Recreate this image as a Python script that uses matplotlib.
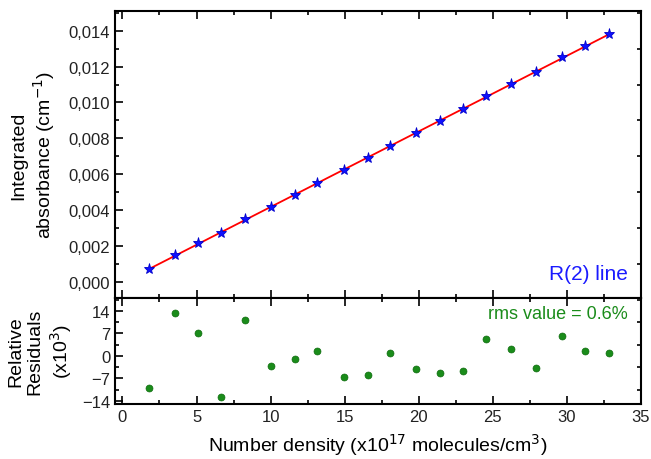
import numpy as np
import matplotlib
matplotlib.use("Agg")
import matplotlib.pyplot as plt
from matplotlib.ticker import MultipleLocator, FuncFormatter

plt.rcParams['font.family'] = ['Liberation Sans', 'DejaVu Sans']

# number density (x10^17 molecules/cm^3)
density = [1.78, 3.54, 5.12, 6.63, 8.30, 10.01, 11.64, 13.13, 14.98, 16.58,
           18.07, 19.83, 21.43, 23.00, 24.53, 26.25, 27.94, 29.66, 31.21, 32.81]
# integrated absorbance (cm^-1)
absorb = [0.000712, 0.001479, 0.002141, 0.002726, 0.003503, 0.004171, 0.004866,
          0.005506, 0.006235, 0.006908, 0.007585, 0.008283, 0.008943, 0.009608,
          0.010351, 0.011043, 0.011687, 0.012533, 0.013128, 0.013794]
# relative residuals (x10^3)
resid = [-10.0, 13.3, 7.2, -12.7, 11.2, -3.1, -0.9, 1.5, -6.7, -6.1,
         1.0, -4.2, -5.4, -4.7, 5.2, 2.0, -3.9, 6.1, 1.4, 0.8]

fig = plt.figure(figsize=(6.51, 4.60), dpi=100)
ax1 = fig.add_axes([0.1767, 0.350, 0.808, 0.624])
ax2 = fig.add_axes([0.1767, 0.1196, 0.808, 0.2304], sharex=ax1)

coef = np.polyfit(density, absorb, 1)
xf = np.array([density[0], density[-1]])
ax1.plot(xf, np.polyval(coef, xf), color='red', lw=1.3, zorder=2)
ax1.plot(density, absorb, ls='none', marker='*', ms=8, color='#1010ff',
         markeredgecolor='#0000cc', mew=0.6, zorder=3)
ax1.text(0.975, 0.085, 'R(2) line', color='#1a1aff', fontsize=15,
         ha='right', va='center', transform=ax1.transAxes)

ax2.plot(density, resid, ls='none', marker='o', ms=5, color='#1a8c1a',
         markeredgecolor='#0d6b0d', mew=0.5)
ax2.text(0.975, 0.85, 'rms value = 0.6%', color='#1a8c1a', fontsize=13,
         ha='right', va='center', transform=ax2.transAxes)

ax1.set_xlim(-0.5, 35)
ax1.set_ylim(-0.0009, 0.0151)
ax2.set_ylim(-15, 18)

ax1.yaxis.set_major_locator(MultipleLocator(0.002))
ax1.yaxis.set_minor_locator(MultipleLocator(0.001))
ax1.yaxis.set_major_formatter(FuncFormatter(lambda v, p: ('%.3f' % v).replace('.', ',').replace('-0,000', '0,000')))
ax1.xaxis.set_major_locator(MultipleLocator(5))
ax1.xaxis.set_minor_locator(MultipleLocator(2.5))
ax2.yaxis.set_major_locator(MultipleLocator(7))
ax2.yaxis.set_minor_locator(MultipleLocator(3.5))
ax2.set_yticks([-14, -7, 0, 7, 14])

for ax in (ax1, ax2):
    for s in ax.spines.values():
        s.set_linewidth(1.5)
    ax.tick_params(which='both', direction='in', top=True, right=True,
                   labelsize=12, width=1.2, labelcolor='#222222')
    ax.tick_params(which='major', length=6)
    ax.tick_params(which='minor', length=3)
    ax.tick_params(axis='y', which='major', right=False)
ax1.tick_params(axis='x', labelbottom=False)
ax1.tick_params(axis='y', which='minor', right=True)
ax2.tick_params(axis='y', which='minor', right=True)

ax1.set_ylabel('Integrated\nabsorbance (cm$^{-1}$)', fontsize=14, labelpad=8)
ax2.set_ylabel('Relative\nResiduals\n(x10$^3$)', fontsize=14, labelpad=6)
ax2.set_xlabel('Number density (x10$^{17}$ molecules/cm$^3$)', fontsize=14, labelpad=5)
fig.align_ylabels([ax1, ax2])

fig.savefig('out.png', dpi=100)
